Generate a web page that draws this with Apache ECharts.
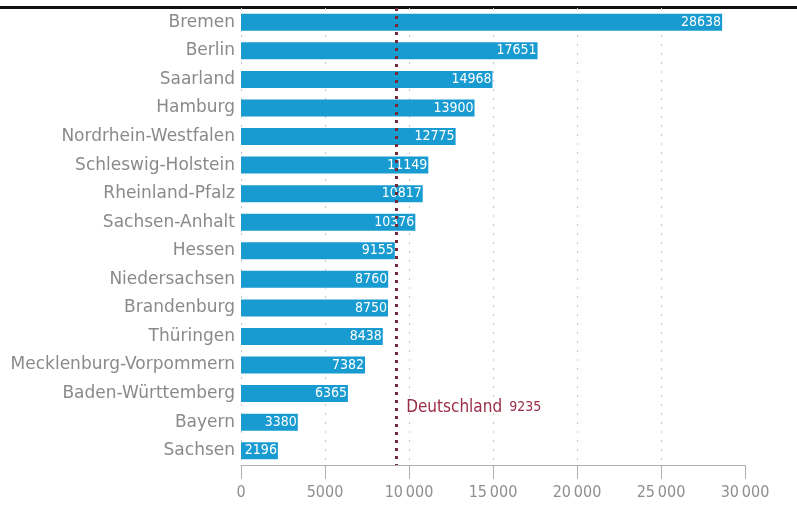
<!DOCTYPE html>
<html>
<head>
<meta charset="utf-8">
<title></title>
<style type="text/css">
	html, body { margin: 0; padding: 0; background: #fff; }
	#main { width: 797px; height: 506px; }
</style>
</head>
<body>
<div id="main"></div>
<script src="https://cdn.jsdelivr.net/npm/echarts@6/dist/echarts.min.js"></script>
<script type="text/javascript">
// Bundeslaender, von oben nach unten
var laender = ['Bremen', 'Berlin', 'Saarland', 'Hamburg', 'Nordrhein-Westfalen', 'Schleswig-Holstein',
	'Rheinland-Pfalz', 'Sachsen-Anhalt', 'Hessen', 'Niedersachsen', 'Brandenburg', 'Thüringen',
	'Mecklenburg-Vorpommern', 'Baden-Württemberg', 'Bayern', 'Sachsen'];
var werte = [28638, 17651, 14968, 13900, 12775, 11149, 10817, 10376, 9155, 8760, 8750, 8438, 7382, 6365, 3380, 2196];
var deutschland = 9235;
var xTicks = [0, 5000, 10000, 15000, 20000, 25000, 30000];

var chartDom = document.getElementById('main');
var myChart = echarts.init(chartDom);

// 10000 -> "10 000" (schmales Leerzeichen)
function fmt(v) {
	var s = String(v);
	if (v >= 10000) s = s.slice(0, s.length - 3) + '\u2009' + s.slice(-3);
	return s;
}

var option = {
	animation: false,
	grid: { left: 241, right: 52, top: 8, bottom: 41 },
	xAxis: {
		type: 'value',
		min: xTicks[0],
		max: xTicks[xTicks.length - 1],
		interval: 5000,
		axisLine: { show: true, lineStyle: { color: '#b0b0b0', width: 1 } },
		axisTick: { show: true, length: 14, lineStyle: { color: '#b0b0b0' } },
		axisLabel: { color: '#8e8e8e', fontSize: 16, fontFamily: 'DejaVu Sans Condensed', margin: 20, formatter: fmt },
		splitLine: { show: true, showMaxLine: false, lineStyle: { color: '#c8c8c8', type: [2, 7], width: 1 } }
	},
	yAxis: {
		type: 'category',
		inverse: true,
		data: laender,
		axisLine: { show: false },
		axisTick: { show: false },
		axisLabel: { color: '#8a8a8a', fontSize: 17, fontFamily: 'DejaVu Sans', margin: 6 }
	},
	series: [{
		type: 'bar',
		data: werte,
		barWidth: 17,
		itemStyle: { color: '#189bd0' },
		label: {
			show: true,
			position: 'insideRight',
			distance: 1,
			color: '#fff',
			fontSize: 14,
			fontFamily: 'DejaVu Sans Condensed'
		},
		markLine: {
			silent: true,
			symbol: ['none', 'none'],
			label: { show: false },
			lineStyle: { color: '#742838', type: [3, 5], width: 3 },
			data: [{ xAxis: deutschland }]
		},
		markPoint: {
			silent: true,
			symbolSize: 0,
			data: [{ coord: [deutschland, 'Bayern'] }],
			label: {
				show: true,
				position: 'right',
				offset: [5, -15],
				formatter: '{a|Deutschland}{b|' + deutschland + '}',
				rich: {
					a: { color: '#9a2d48', fontSize: 17, fontFamily: 'DejaVu Sans Condensed' },
					b: { color: '#9a2d48', fontSize: 14, fontFamily: 'DejaVu Sans Condensed', padding: [0, 0, 0, 7] }
				}
			}
		}
	}],
	graphic: [{
		type: 'rect',
		shape: { x: 0, y: 6, width: 797, height: 3 },
		style: { fill: '#111' }
	}]
};

option && myChart.setOption(option);
</script>
</body>
</html>
